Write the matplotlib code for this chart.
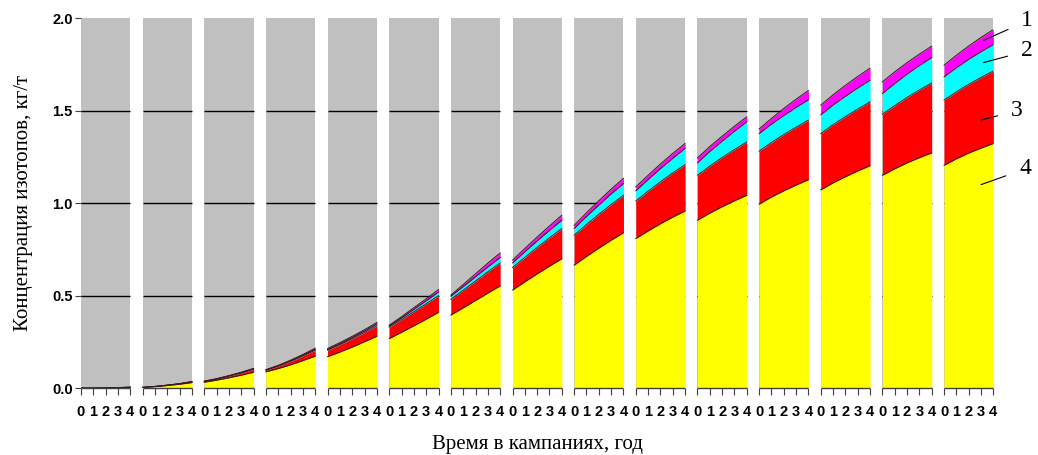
import numpy as np
import matplotlib
matplotlib.use('Agg')
import matplotlib.pyplot as plt

# isotope concentrations, kg/t, per campaign at years 0..4
years = [0, 1, 2, 3, 4]
n_campaigns = 15

# 4 - yellow (bottom layer)
iso4 = [
    [0.000, 0.000, 0.001, 0.002, 0.004],
    [0.004, 0.008, 0.014, 0.021, 0.030],
    [0.032, 0.043, 0.056, 0.070, 0.086],
    [0.088, 0.106, 0.126, 0.149, 0.173],
    [0.170, 0.195, 0.222, 0.251, 0.281],
    [0.268, 0.302, 0.337, 0.373, 0.410],
    [0.395, 0.434, 0.474, 0.514, 0.553],
    [0.530, 0.575, 0.618, 0.660, 0.700],
    [0.665, 0.712, 0.757, 0.800, 0.840],
    [0.809, 0.850, 0.889, 0.925, 0.958],
    [0.908, 0.946, 0.981, 1.013, 1.043],
    [0.995, 1.033, 1.067, 1.098, 1.127],
    [1.072, 1.110, 1.143, 1.174, 1.203],
    [1.151, 1.186, 1.218, 1.246, 1.272],
    [1.205, 1.240, 1.271, 1.298, 1.323],
]
# 3 - red
iso3 = [
    [0.000, 0.000, 0.000, 0.001, 0.001],
    [0.000, 0.001, 0.002, 0.003, 0.004],
    [0.004, 0.006, 0.009, 0.012, 0.016],
    [0.008, 0.013, 0.019, 0.025, 0.032],
    [0.035, 0.040, 0.045, 0.050, 0.056],
    [0.062, 0.069, 0.076, 0.083, 0.090],
    [0.085, 0.095, 0.105, 0.115, 0.124],
    [0.122, 0.132, 0.143, 0.153, 0.163],
    [0.162, 0.173, 0.183, 0.193, 0.203],
    [0.203, 0.215, 0.227, 0.239, 0.251],
    [0.243, 0.255, 0.266, 0.277, 0.288],
    [0.286, 0.295, 0.304, 0.313, 0.322],
    [0.304, 0.315, 0.325, 0.335, 0.345],
    [0.330, 0.342, 0.354, 0.366, 0.378],
    [0.352, 0.362, 0.372, 0.382, 0.392],
]
# 2 - cyan
iso2 = [
    [0.000, 0.000, 0.000, 0.000, 0.000],
    [0.000, 0.000, 0.000, 0.000, 0.001],
    [0.001, 0.001, 0.001, 0.002, 0.002],
    [0.002, 0.002, 0.003, 0.004, 0.005],
    [0.004, 0.005, 0.007, 0.008, 0.010],
    [0.006, 0.009, 0.013, 0.016, 0.020],
    [0.017, 0.020, 0.023, 0.026, 0.029],
    [0.025, 0.030, 0.035, 0.040, 0.045],
    [0.036, 0.043, 0.050, 0.057, 0.063],
    [0.055, 0.063, 0.071, 0.079, 0.087],
    [0.067, 0.078, 0.088, 0.099, 0.109],
    [0.095, 0.099, 0.103, 0.107, 0.110],
    [0.102, 0.106, 0.110, 0.114, 0.117],
    [0.112, 0.119, 0.126, 0.132, 0.138],
    [0.126, 0.130, 0.135, 0.139, 0.143],
]
# 1 - magenta (top layer)
iso1 = [
    [0.000, 0.000, 0.000, 0.000, 0.000],
    [0.000, 0.000, 0.000, 0.000, 0.001],
    [0.001, 0.001, 0.002, 0.002, 0.003],
    [0.002, 0.002, 0.003, 0.004, 0.006],
    [0.005, 0.006, 0.006, 0.007, 0.008],
    [0.004, 0.006, 0.009, 0.011, 0.013],
    [0.006, 0.011, 0.016, 0.021, 0.025],
    [0.015, 0.018, 0.021, 0.024, 0.027],
    [0.017, 0.020, 0.023, 0.026, 0.028],
    [0.021, 0.023, 0.025, 0.026, 0.027],
    [0.027, 0.027, 0.027, 0.027, 0.027],
    [0.025, 0.031, 0.038, 0.044, 0.050],
    [0.052, 0.055, 0.059, 0.062, 0.065],
    [0.063, 0.063, 0.062, 0.062, 0.061],
    [0.063, 0.068, 0.072, 0.077, 0.081],
]

colors = ['#ffff00', '#ff0000', '#00ffff', '#ff00ff']
serif = ['Liberation Serif', 'DejaVu Serif']
sans = ['Liberation Sans', 'DejaVu Sans']

fig = plt.figure(figsize=(10.38, 4.55), dpi=100)
ax = fig.add_axes([0.078, 0.147, 0.879, 0.813])

step = len(years)  # 4 years plus a one-year gap between campaigns
for k in range(n_campaigns):
    x0 = k * step
    xs = np.array(years) + x0
    ax.axvspan(x0, x0 + 4, color='#c0c0c0', lw=0, zorder=0)
    ax.hlines([0.5, 1.0, 1.5], x0, x0 + 4, colors='black', lw=1.0, zorder=1)
    bottom = np.zeros(len(years))
    for layer, c in zip([iso4[k], iso3[k], iso2[k], iso1[k]], colors):
        top = bottom + np.array(layer)
        ax.fill_between(xs, bottom, top, color=c, lw=0, zorder=2)
        ax.plot(xs, top, color='#3a1a1a', lw=0.7, zorder=3)
        bottom = top
    # axis segment under each campaign
    ax.hlines(0, x0, x0 + 4, colors='#404040', lw=1.0, zorder=4, clip_on=False)

ax.set_xlim(0, (n_campaigns - 1) * step + 4)
ax.set_ylim(0, 2.0)

xt = [k * step + y for k in range(n_campaigns) for y in years]
ax.set_xticks(xt)
ax.set_xticklabels([str(y) for _ in range(n_campaigns) for y in years],
                   fontfamily=sans, fontweight='bold', fontsize=10.5)
ax.set_yticks([0, 0.5, 1.0, 1.5, 2.0])
ax.set_yticklabels(['0.0', '0.5', '1.0', '1.5', '2.0'],
                   fontfamily=sans, fontweight='bold', fontsize=10.5)
ax.tick_params(axis='x', direction='out', length=5, color='#404040', pad=7)
ax.tick_params(axis='y', length=4, color='#404040', pad=2)
for s in ax.spines.values():
    s.set_visible(False)

ax.set_ylabel('Концентрация изотопов, кг/т', fontfamily=serif, fontsize=15, labelpad=14)
ax.set_xlabel('Время в кампаниях, год', fontfamily=serif, fontsize=15, labelpad=12)

# layer labels on the right
labels = [('1', 73.2, 1.88, 1027, 21), ('2', 73.2, 1.76, 1027, 51),
          ('3', 73.0, 1.45, 1017, 111), ('4', 73.0, 1.10, 1025, 169)]
for txt, xd, yd, px, py in labels:
    ax.annotate(txt, xy=(xd, yd), xycoords='data',
                xytext=(px / 1038, 1 - py / 455), textcoords='figure fraction',
                ha='center', va='center', fontfamily=serif, fontsize=17,
                arrowprops=dict(arrowstyle='-', color='black', lw=0.8,
                                shrinkA=8, shrinkB=0))

fig.savefig('out.png', dpi=100)
